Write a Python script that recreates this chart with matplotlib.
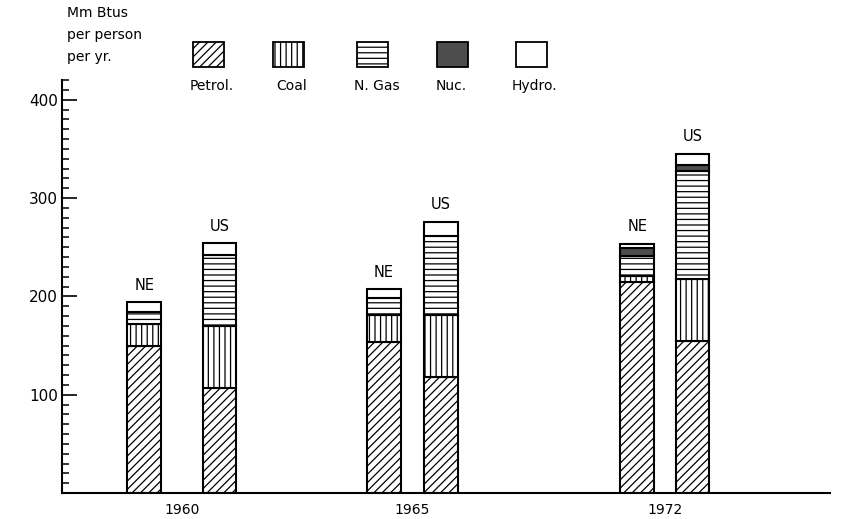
import numpy as np
import matplotlib.pyplot as plt
from matplotlib.patches import Rectangle
from matplotlib.ticker import MultipleLocator

plt.rcParams['font.family'] = ['DejaVu Sans']
plt.rcParams['hatch.linewidth'] = 0.9

# Data (Mm Btus per person per yr.)
years = ['1960', '1965', '1972']
sources = ['Petrol.', 'Coal', 'N. Gas', 'Nuc.', 'Hydro.']
petrol_ne = [150, 154, 215]
coal_ne = [22, 27, 6]
gas_ne = [12, 17, 20]
nuc_ne = [0, 0, 8]
hydro_ne = [10, 9, 4]
petrol_us = [107, 118, 155]
coal_us = [63, 63, 63]
gas_us = [72, 80, 109]
nuc_us = [0, 0, 7]
hydro_us = [12, 15, 11]

# Styles
hatches = ['////', '|||', '---', '', '']
faces = ['white', 'white', 'white', '#4d4d4d', 'white']

# Group layout
centers = [1.56, 4.56, 7.85]
offsets = [0.49, 0.37, 0.36]
width = 0.44

fig = plt.figure(figsize=(8.59, 5.19), dpi=100)
ax = fig.add_axes([62 / 859, 1 - 493 / 519, 768 / 859, (493 - 80) / 519])

ne = [petrol_ne, coal_ne, gas_ne, nuc_ne, hydro_ne]
us = [petrol_us, coal_us, gas_us, nuc_us, hydro_us]

for name, stack, sign in [('NE', ne, -1), ('US', us, 1)]:
    xs = np.array(centers) + sign * np.array(offsets)
    bottom = np.zeros(len(years))
    for vals, h, fc in zip(stack, hatches, faces):
        vals = np.array(vals, dtype=float)
        mask = vals > 0
        ax.bar(xs[mask], vals[mask], width, bottom=bottom[mask], color=fc,
               edgecolor='black', hatch=h, linewidth=1.5)
        bottom += vals
    for x, tot in zip(xs, bottom):
        ax.annotate(name, (x, tot), xytext=(0, 7), textcoords='offset points',
                    ha='center', va='bottom', fontsize=10.5)

ax.set_xlim(0, 10)
ax.set_ylim(0, 420)
ax.set_xticks(centers)
ax.set_xticklabels(years, fontsize=10)
ax.tick_params(axis='x', length=0, pad=7)
ax.set_yticks([100, 200, 300, 400])
ax.yaxis.set_minor_locator(MultipleLocator(10))
ax.tick_params(axis='y', which='major', direction='in', length=11, width=1.2,
               labelsize=11, pad=3)
ax.tick_params(axis='y', which='minor', direction='in', length=5, width=1.1)
for s in ['top', 'right']:
    ax.spines[s].set_visible(False)
for s in ['left', 'bottom']:
    ax.spines[s].set_linewidth(1.5)

# Y label
fig.text(67 / 859, 1 - 13 / 519, 'Mm Btus', fontsize=10, va='center')
fig.text(67 / 859, 1 - 35 / 519, 'per person', fontsize=10, va='center')
fig.text(67 / 859, 1 - 57 / 519, 'per yr.', fontsize=10, va='center')

# Legend
box_x = [193, 273, 357, 437, 516]
label_x = [212, 292, 377, 451, 534]
for bx, lx, name, h, fc in zip(box_x, label_x, sources, hatches, faces):
    fig.patches.append(Rectangle((bx / 859, 1 - 67 / 519), 31 / 859, 25 / 519,
                                 transform=fig.transFigure, facecolor=fc,
                                 edgecolor='black', hatch=h, linewidth=1.3))
    fig.text(lx / 859, 1 - 86 / 519, name, fontsize=10, ha='center', va='center')

fig.savefig('out.png', dpi=100)
